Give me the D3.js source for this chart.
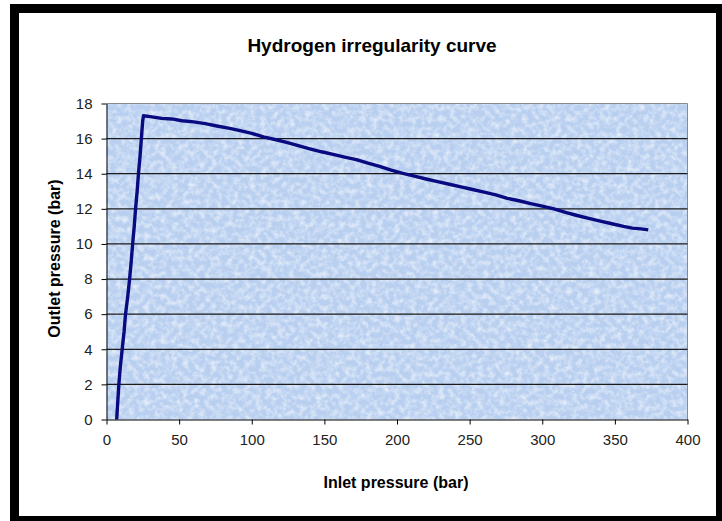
<!DOCTYPE html>
<html>
<head>
<meta charset="utf-8">
<script src="https://cdn.jsdelivr.net/npm/d3@7"></script>
<style>
  body { margin: 0; background: #fff; }
  svg { display: block; font-family: "Liberation Sans", Arial, sans-serif; }
</style>
</head>
<body>
<script>
const d3 = window.d3;

// readings: inlet pressure (bar) vs outlet pressure (bar)
const inlet = [7, 7.6, 8.5, 9.5, 10.8, 12.1, 13.1, 14.6, 15.9, 17.0, 18.0, 19.1, 20.0, 21.1, 22.0, 23.1, 24.0, 24.9, 25.5,
  30, 38, 45, 52, 60, 68, 76, 84, 92, 100, 108, 116, 124, 132, 140, 148, 156, 164, 172, 180, 188, 196, 204,
  212, 220, 228, 236, 244, 252, 260, 268, 276, 284, 292, 300, 308, 316, 324, 332, 340, 348, 356, 362, 368, 373];
const outlet = [0, 0.8, 2, 3, 4, 5, 6, 7, 8, 9, 10, 11, 12, 13, 14, 15, 16, 17, 17.3,
  17.25, 17.15, 17.12, 17.02, 16.95, 16.85, 16.72, 16.6, 16.45, 16.3, 16.1, 15.95, 15.78, 15.6, 15.42, 15.25, 15.1,
  14.95, 14.8, 14.6, 14.42, 14.2, 14.02, 13.86, 13.7, 13.55, 13.4, 13.25, 13.1, 12.95, 12.8, 12.6, 12.46,
  12.3, 12.15, 12.0, 11.8, 11.62, 11.46, 11.3, 11.15, 11.0, 10.9, 10.86, 10.8];
const xTicks = [0, 50, 100, 150, 200, 250, 300, 350, 400];
const yTicks = [0, 2, 4, 6, 8, 10, 12, 14, 16, 18];

const W = 722, H = 521;
const plot = {left: 106.5, right: 687.5, top: 103.5, bottom: 419.5};

const svg = d3.select("body").append("svg")
    .attr("width", W)
    .attr("height", H);

// paper-like blue texture for the plot area
const defs = svg.append("defs");
const tex = defs.append("filter").attr("id", "tex")
    .attr("x", 0).attr("y", 0).attr("width", 1).attr("height", 1);
tex.append("feTurbulence")
    .attr("type", "fractalNoise")
    .attr("baseFrequency", 0.18)
    .attr("numOctaves", 3)
    .attr("seed", 7);
tex.append("feColorMatrix")
    .attr("type", "matrix")
    .attr("values", "0 0 0 0 1  0 0 0 0 1  0 0 0 0 1  1.3 0 0 0 -0.5");

// black frame
svg.append("rect")
    .attr("x", 14.5).attr("y", 8.5)
    .attr("width", 706).attr("height", 512)
    .attr("fill", "#fff")
    .attr("stroke", "#000")
    .attr("stroke-width", 9);

const x = d3.scaleLinear().domain([0, 400]).range([plot.left, plot.right]);
const y = d3.scaleLinear().domain([0, 18]).range([plot.bottom, plot.top]);

svg.append("rect")
    .attr("x", plot.left).attr("y", plot.top)
    .attr("width", plot.right - plot.left).attr("height", plot.bottom - plot.top)
    .attr("fill", "#b8cff0");
svg.append("rect")
    .attr("x", plot.left).attr("y", plot.top)
    .attr("width", plot.right - plot.left).attr("height", plot.bottom - plot.top)
    .attr("filter", "url(#tex)");

// top and right plot border
svg.append("path")
    .attr("d", `M${plot.left},${plot.top}H${plot.right}V${plot.bottom}`)
    .attr("fill", "none")
    .attr("stroke", "#8a8a8a");

// gridlines
svg.append("g")
    .selectAll("line")
    .data(yTicks.filter(d => d > 0 && d < 18))
    .join("line")
    .attr("x1", plot.left).attr("x2", plot.right)
    .attr("y1", d => y(d)).attr("y2", d => y(d))
    .attr("stroke", "#1a1a1a")
    .attr("stroke-width", 1.2);

// axes
const xAxis = svg.append("g")
    .attr("transform", `translate(0,${plot.bottom})`)
    .call(d3.axisBottom(x).tickValues(xTicks).tickSize(5).tickPadding(10).tickSizeOuter(0));
const yAxis = svg.append("g")
    .attr("transform", `translate(${plot.left},0)`)
    .call(d3.axisLeft(y).tickValues(yTicks).tickSize(5).tickPadding(9).tickSizeOuter(0));
[xAxis, yAxis].forEach(a => {
    a.select(".domain").attr("stroke", "#000");
    a.selectAll(".tick line").attr("stroke", "#000");
    a.selectAll(".tick text")
        .attr("fill", "#222")
        .style("font-size", "15px")
        .style("font-family", "'Liberation Sans', Arial, sans-serif");
});

// the curve
const line = d3.line()
    .x((d, i) => x(inlet[i]))
    .y(d => y(d));
svg.append("path")
    .datum(outlet)
    .attr("d", line)
    .attr("fill", "none")
    .attr("stroke", "#0a0a80")
    .attr("stroke-width", 3.4)
    .attr("stroke-linejoin", "round");

// titles
svg.append("text")
    .attr("x", 372).attr("y", 52)
    .attr("text-anchor", "middle")
    .style("font-weight", "bold")
    .style("font-size", "19px")
    .text("Hydrogen irregularity curve");

svg.append("text")
    .attr("x", 396).attr("y", 488)
    .attr("text-anchor", "middle")
    .style("font-weight", "bold")
    .style("font-size", "16px")
    .text("Inlet pressure (bar)");

svg.append("text")
    .attr("transform", "translate(60,258.5) rotate(-90)")
    .attr("text-anchor", "middle")
    .style("font-weight", "bold")
    .style("font-size", "16px")
    .text("Outlet pressure (bar)");
</script>
</body>
</html>
